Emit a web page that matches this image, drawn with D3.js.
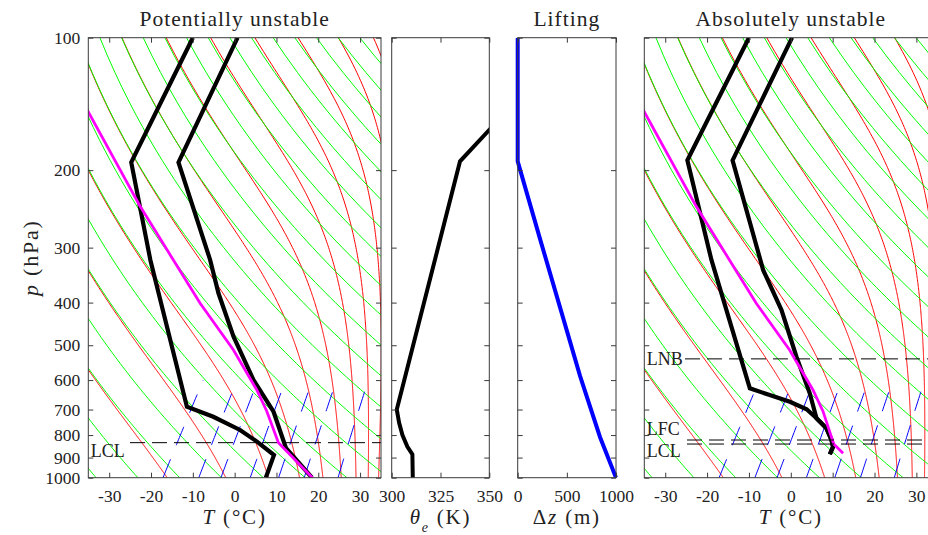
<!DOCTYPE html>
<html><head><meta charset="utf-8">
<script src="https://cdn.jsdelivr.net/npm/d3@7"></script>
<style>
body{margin:0;background:#fff;}
text{font-family:"Liberation Serif","DejaVu Serif",serif;fill:#222;}
</style></head>
<body><svg id="chart" width="928" height="535"></svg>
<script>
// ---------------- data ----------------
const pTicks = [100,200,300,400,500,600,700,800,900,1000];
const tTicks = [-30,-20,-10,0,10,20,30];
const thetaTicks = [300,325,350];
const dzTicks = [0,500,1000];
const titles = ["Potentially unstable","Lifting","Absolutely unstable"];

const dryTheta = [240,250,260,270,280,290,300,310,320,330,340,350,360,370,380,390,400,410,420,430,440,450]; // K
const moistThetaE = [260,280,300,320,340,360,380,400,420,440,460]; // K
const mixRatios = [1,2,3,5,8,12,20]; // g/kg

// Panel 1: potentially unstable sounding (T in degC, p in hPa)
const envP1 = [1000, 857, 708, 600, 478, 381, 320, 192, 100];
const envT1 = [18.5, 7.6, -1.2, -11.0, -22.7, -33.2, -40.5, -63.6, -69.3];
const dewP1 = [1000, 888, 828, 779, 727, 690, 320, 192, 100];
const dewT1 = [7.45, 5.8, -0.4, -6.3, -14.8, -22.7, -54.8, -74.9, -80.0];
const parcelP1 = [1000, 832.5, 706, 632, 512.6, 401.5, 320, 242, 147.7, 130];
const parcelT1 = [18.6, 4.9, -2.9, -8.65, -20.6, -36.0, -49.3, -65.7, -93.1, -99.6];
const lclP1 = 832.5;

// Panel 2: equivalent potential temperature
const thetaEP = [1000, 885, 850, 800, 750, 700, 191, 100];
const thetaEV = [310.8, 310.6, 308.0, 305.5, 303.8, 302.6, 335.0, 394.0];

// Panel 3: lifting
const dzP = [100, 191, 286.5, 409.5, 587, 808, 1000];
const dzV = [0, 0, 227, 430, 634, 837, 1000];

// Panel 4: absolutely unstable sounding
const envP4 = [100, 190, 337.6, 415.8, 530.9, 642.9, 732.8, 772.3, 821, 850.4, 884.6];
const envT4 = [-69.7, -64.4, -39.6, -28.9, -17.9, -8.9, -3.3, 0.67, 3.72, 5.17, 5.6];
const dewP4 = [100, 190, 320, 626.5, 648.7, 672, 699, 732.8, 772.3, 821, 850.4, 884.6];
const dewT4 = [-80, -75.2, -53.6, -24.0, -18.2, -12.3, -7.1, -3.3, 0.67, 3.72, 5.17, 5.6];
const parcelP4 = [880, 838.5, 706, 632, 512.6, 401.5, 320, 242, 147.7, 130];
const parcelT4 = [8.6, 4.9, -2.9, -8.65, -20.6, -36.0, -49.3, -65.7, -93.1, -99.6];
const levels4 = [{name:"LNB", p:537}, {name:"LFC", p:821}, {name:"LCL", p:838.5}];

// ---------------- layout ----------------
const yTop = 37.7, yBot = 477.7;
const SKEW = 70; // degC per decade of pressure
const panels = {
  p1:{x0:88.3, x1:381},
  p2:{x0:391.7, x1:489.3},
  p3:{x0:517.7, x1:616},
  p4:{x0:644.3, x1:937.3}
};
const svg = d3.select("#chart");
const y = d3.scaleLog().domain([100,1000]).range([yTop,yBot]);

// ---------------- thermodynamics for background lines ----------------
const Rd=287.04, cp=1005.7, Lv=2.501e6, eps=0.622;
const es = Tc => 6.112*Math.exp(17.67*Tc/(Tc+243.5));
const rs = (Tc,p) => { const e=es(Tc); return eps*e/(p-e); };
function thetaEsat(Tc,p){
  const T=Tc+273.15, r=rs(Tc,p)*1000;
  return T*Math.pow(1000/p,0.2854*(1-0.00028*r))*Math.exp((3.376/T-0.00254)*r*(1+0.00081*r));
}
function lapse(Tc,p){
  const T=Tc+273.15, r=rs(Tc,p);
  return ((Rd*T+Lv*r)/p)/(cp+(Lv*Lv*r*eps)/(Rd*T*T));
}
function moistCurve(te){
  let lo=-80, hi=60;
  for(let i=0;i<60;i++){ const m=(lo+hi)/2; if(thetaEsat(m,1000)<te) lo=m; else hi=m; }
  let T=(lo+hi)/2; const pts=[];
  for(let p=1000; p>=100-1e-9; p-=2.5){
    pts.push({p, T});
    const h=-2.5;
    const k1=lapse(T,p), k2=lapse(T+h/2*k1,p+h/2), k3=lapse(T+h/2*k2,p+h/2), k4=lapse(T+h*k3,p+h);
    T += h/6*(k1+2*k2+2*k3+k4);
  }
  return pts;
}
const dryCurve = th => d3.range(1000, 99, -10).map(p => ({p, T: th*Math.pow(p/1000,0.2857)-273.15}));
function mixCurve(w){
  return d3.range(1000, 599, -10).map(p => {
    const e = (w/1000)*p/(eps + w/1000);
    const L = Math.log(e/6.112);
    return {p, T: 243.5*L/(17.67-L)};
  });
}
const zipTP = (P,T) => P.map((p,i)=>({p, T:T[i]}));

// ---------------- helpers ----------------
function frame(g, x0, x1){
  g.append("rect").attr("x",x0).attr("y",yTop).attr("width",x1-x0).attr("height",yBot-yTop)
   .attr("fill","none").attr("stroke","#3a3a3a").attr("stroke-width",1);
}
function styleAxis(sel){
  sel.selectAll("path.domain").remove();
  sel.selectAll("line").attr("stroke","#3a3a3a");
  sel.selectAll("text").attr("fill","#222").style("font-size","17.5px")
     .style("font-family",'"Liberation Serif","DejaVu Serif",serif');
}
function yAxes(g, x0, x1, labels){
  const la = g.append("g").attr("transform",`translate(${x0},0)`)
    .call(d3.axisLeft(y).tickValues(pTicks).tickSizeInner(-5).tickSizeOuter(0).tickPadding(8)
      .tickFormat(labels ? d=>String(d) : ""));
  styleAxis(la);
  const ra = g.append("g").attr("transform",`translate(${x1},0)`)
    .call(d3.axisRight(y).tickValues(pTicks).tickSizeInner(-5).tickSizeOuter(0).tickFormat(""));
  styleAxis(ra);
}
function xAxes(g, scale, ticks){
  const ba = g.append("g").attr("transform",`translate(0,${yBot})`)
    .call(d3.axisBottom(scale).tickValues(ticks).tickSizeInner(-5).tickSizeOuter(0).tickPadding(12)
      .tickFormat(d=>String(d)));
  styleAxis(ba);
  const ta = g.append("g").attr("transform",`translate(0,${yTop})`)
    .call(d3.axisTop(scale).tickValues(ticks).tickSizeInner(-5).tickSizeOuter(0).tickFormat(""));
  styleAxis(ta);
}
function clip(id, x0, x1){
  svg.append("clipPath").attr("id",id).append("rect")
    .attr("x",x0).attr("y",yTop).attr("width",x1-x0).attr("height",yBot-yTop);
}
function title(txt, cx){
  svg.append("text").attr("x",cx).attr("y",26).attr("text-anchor","middle")
    .style("font-size","21.5px").style("letter-spacing","1px").text(txt);
}

// ---------------- skew-T panels ----------------
function skewPanel(key, env, dew, parcel, lvls){
  const P = panels[key];
  const xs = d3.scaleLinear().domain([-35,35]).range([P.x0, P.x1]);
  const X = d => xs(d.T + SKEW*Math.log10(1000/d.p));
  const line = d3.line().x(X).y(d=>y(d.p));
  clip("clip-"+key, P.x0, P.x1);
  const g = svg.append("g");
  const c = g.append("g").attr("clip-path",`url(#clip-${key})`);
  c.selectAll(".moist").data(moistThetaE).join("path")
    .attr("d", te=>line(moistCurve(te))).attr("fill","none").attr("stroke","#ff0000").attr("stroke-width",1);
  c.selectAll(".dry").data(dryTheta).join("path")
    .attr("d", th=>line(dryCurve(th))).attr("fill","none").attr("stroke","#00ff00").attr("stroke-width",1);
  c.selectAll(".mix").data(mixRatios).join("path")
    .attr("d", w=>line(mixCurve(w))).attr("fill","none").attr("stroke","#0000ff").attr("stroke-width",1)
    .attr("stroke-dasharray","20,15");
  c.append("path").attr("d",line(dew)).attr("fill","none").attr("stroke","#000").attr("stroke-width",4.2).attr("stroke-linejoin","miter");
  c.append("path").attr("d",line(env)).attr("fill","none").attr("stroke","#000").attr("stroke-width",4.2).attr("stroke-linejoin","miter");
  c.append("path").attr("d",line(parcel)).attr("fill","none").attr("stroke","#ff00ff").attr("stroke-width",2.8);
  lvls.forEach(l=>{
    c.append("line").attr("x1",l.xStart).attr("x2",P.x1).attr("y1",y(l.p)).attr("y2",y(l.p))
      .attr("stroke","#000").attr("stroke-width",1).attr("stroke-dasharray","15,7");
    g.append("text").attr("x",P.x0+2.5).attr("y",y(l.p)+l.dy).style("font-size","18px").text(l.name);
  });
  frame(g, P.x0, P.x1);
  xAxes(g, xs, tTicks);
  return {g, xs};
}

const s1 = skewPanel("p1", zipTP(envP1,envT1), zipTP(dewP1,dewT1), zipTP(parcelP1,parcelT1),
  [{name:"LCL", p:lclP1, xStart:130, dy:14}]);
yAxes(s1.g, panels.p1.x0, panels.p1.x1, true);

const s4 = skewPanel("p4", zipTP(envP4,envT4), zipTP(dewP4,dewT4), zipTP(parcelP4,parcelT4),
  [{name:"LNB", p:levels4[0].p, xStart:685, dy:6},
   {name:"LFC", p:levels4[1].p, xStart:687, dy:-5},
   {name:"LCL", p:levels4[2].p, xStart:687, dy:13}]);
yAxes(s4.g, panels.p4.x0, panels.p4.x1, false);

// ---------------- theta_e panel ----------------
{
  const P = panels.p2;
  const xs = d3.scaleLinear().domain([300,350]).range([P.x0,P.x1]);
  clip("clip-p2", P.x0, P.x1);
  const g = svg.append("g");
  g.append("g").attr("clip-path","url(#clip-p2)").append("path")
    .attr("d", d3.line().x(d=>xs(d.v)).y(d=>y(d.p))(thetaEP.map((p,i)=>({p, v:thetaEV[i]}))))
    .attr("fill","none").attr("stroke","#000").attr("stroke-width",4);
  frame(g, P.x0, P.x1);
  xAxes(g, xs, thetaTicks);
  yAxes(g, P.x0, P.x1, false);
}
// ---------------- lifting panel ----------------
{
  const P = panels.p3;
  const xs = d3.scaleLinear().domain([0,1000]).range([P.x0,P.x1]);
  clip("clip-p3", P.x0-3, P.x1+3);
  const g = svg.append("g");
  g.append("g").attr("clip-path","url(#clip-p3)").append("path")
    .attr("d", d3.line().x(d=>xs(d.v)).y(d=>y(d.p))(dzP.map((p,i)=>({p, v:dzV[i]}))))
    .attr("fill","none").attr("stroke","#0000ff").attr("stroke-width",4);
  frame(g, P.x0, P.x1);
  xAxes(g, xs, dzTicks);
  yAxes(g, P.x0, P.x1, false);
}

// ---------------- titles & axis labels ----------------
title(titles[0], (panels.p1.x0+panels.p1.x1)/2);
title(titles[1], (panels.p3.x0+panels.p3.x1)/2);
title(titles[2], (panels.p4.x0+panels.p4.x1)/2);

function axisLabel(cx, parts){
  const t = svg.append("text").attr("x",cx).attr("y",524).attr("text-anchor","middle")
    .style("font-size","21px").style("letter-spacing","1.8px");
  parts.forEach(p=>{
    const s = t.append("tspan").text(p.t);
    if(p.i) s.style("font-style","italic");
    if(p.sub) s.attr("baseline-shift","sub").style("font-size","14px");
  });
}
axisLabel((panels.p1.x0+panels.p1.x1)/2, [{t:"T",i:1},{t:" (°C)"}]);
axisLabel((panels.p2.x0+panels.p2.x1)/2, [{t:"θ",i:1},{t:"e",i:1,sub:1},{t:" (K)"}]);
axisLabel((panels.p3.x0+panels.p3.x1)/2, [{t:"Δ"},{t:"z",i:1},{t:" (m)"}]);
axisLabel((panels.p4.x0+panels.p4.x1)/2, [{t:"T",i:1},{t:" (°C)"}]);
{
  const t = svg.append("text").attr("transform",`translate(38,${(yTop+yBot)/2}) rotate(-90)`)
    .attr("text-anchor","middle").style("font-size","22px").style("letter-spacing","1.8px");
  t.append("tspan").style("font-style","italic").text("p");
  t.append("tspan").text(" (hPa)");
}
</script></body></html>
